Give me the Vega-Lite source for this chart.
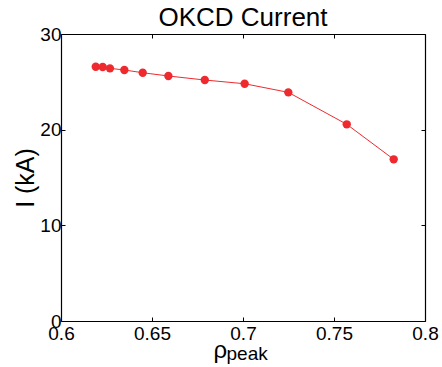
{
  "$schema": "https://vega.github.io/schema/vega-lite/v6.json",
  "autosize": {"type": "none"},
  "padding": {"left": 61, "top": 34, "right": 17, "bottom": 46},
  "width": 364,
  "height": 287,
  "background": "white",
  "config": {
    "font": "Liberation Sans",
    "view": {"stroke": null},
    "axis": {
      "domainColor": "black",
      "domainWidth": 1.2,
      "tickColor": "black",
      "tickSize": -4,
      "tickWidth": 1,
      "grid": false,
      "labelColor": "black",
      "labelFont": "Liberation Sans",
      "labelFontSize": 19,
      "titleColor": "black",
      "titleFont": "Liberation Sans",
      "titleFontWeight": "normal"
    }
  },
  "title": {"text": "OKCD Current", "fontSize": 26, "fontWeight": "normal", "font": "Liberation Sans", "color": "black", "baseline": "alphabetic", "offset": -3, "dy": 24},
  "data": {"values": [
    {"rho": 0.6191, "I": 26.58},
    {"rho": 0.6229, "I": 26.55},
    {"rho": 0.6269, "I": 26.41},
    {"rho": 0.6348, "I": 26.24},
    {"rho": 0.6449, "I": 25.95},
    {"rho": 0.6590, "I": 25.61},
    {"rho": 0.6790, "I": 25.19},
    {"rho": 0.7009, "I": 24.80},
    {"rho": 0.7249, "I": 23.90},
    {"rho": 0.7570, "I": 20.56},
    {"rho": 0.7828, "I": 16.90}
  ]},
  "layer": [
    {
      "layer": [
        {
          "mark": {"type": "line", "color": "#ee2a2e", "strokeWidth": 1},
          "encoding": {
            "x": {"field": "rho", "type": "quantitative", "scale": {"domain": [0.6, 0.8], "nice": false, "zero": false},
              "axis": {"orient": "bottom", "values": [0.6, 0.65, 0.7, 0.75, 0.8], "format": "~g", "labelPadding": 7, "labelFlush": false,
                "title": "ρ", "titleFontSize": 24, "titleX": 152, "titleY": 36, "titleAlign": "left", "titleBaseline": "alphabetic", "titleAnchor": null}},
            "y": {"field": "I", "type": "quantitative", "scale": {"domain": [0, 30], "nice": false},
              "axis": {"orient": "left", "values": [0, 10, 20, 30], "labelPadding": 4, "labelFlush": false,
                "title": "I (kA)", "titleFontSize": 25, "titleX": -28, "titleY": 143.5, "titleAngle": -90, "titleAlign": "center", "titleBaseline": "alphabetic"}}
          }
        },
        {
          "mark": {"type": "circle", "color": "#ee2a2e", "opacity": 1, "size": 70},
          "encoding": {
            "x": {"field": "rho", "type": "quantitative"},
            "y": {"field": "I", "type": "quantitative"}
          }
        }
      ]
    },
    {
      "mark": {"type": "rule", "opacity": 0},
      "encoding": {
        "x": {"field": "rho", "type": "quantitative", "axis": {"orient": "top", "values": [0.6, 0.65, 0.7, 0.75, 0.8], "labels": false,
          "title": "peak", "titleFontSize": 19, "titleX": 165, "titleY": 325, "titleAlign": "left", "titleBaseline": "alphabetic"}},
        "y": {"field": "I", "type": "quantitative", "axis": {"orient": "right", "values": [0, 10, 20, 30], "labels": false, "title": null}}
      }
    }
  ],
  "resolve": {"axis": {"x": "independent", "y": "independent"}}
}
